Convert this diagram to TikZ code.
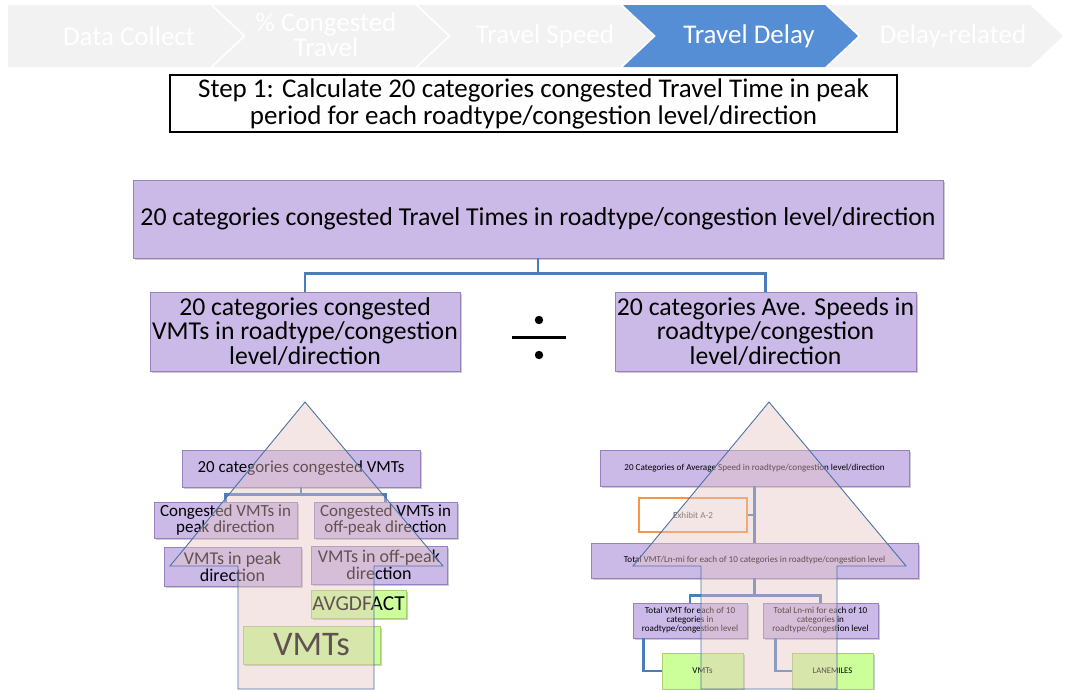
\documentclass[tikz,border=0pt]{standalone}
\usepackage{fontspec}
\setmainfont{Carlito}
\usetikzlibrary{shadows,calc}
\definecolor{chev}{HTML}{F2F2F2}
\definecolor{chevact}{HTML}{558ED5}
\definecolor{lav}{HTML}{CBBAE8}
\definecolor{lavline}{HTML}{9683BD}
\definecolor{conn}{HTML}{4A7EBB}
\definecolor{limef}{HTML}{CCFF99}
\definecolor{limeline}{HTML}{A9CF6E}
\definecolor{pinkf}{HTML}{E8C4C4}
\definecolor{arrline}{HTML}{4A72A8}
\definecolor{orangeb}{HTML}{F79646}
\newcommand{\fs}[2]{\fontsize{#1}{#2}\selectfont}
\begin{document}
\begin{tikzpicture}[x=1pt,y=-1pt,
  box/.style={draw=lavline, fill=lav, line width=0.8pt, inner sep=0pt, align=center,
    drop shadow={shadow xshift=1.5pt,shadow yshift=-1.5pt,fill=black,opacity=0.2}},
  gbox/.style={draw=limeline, fill=limef, line width=1pt, inner sep=0pt, align=center,
    drop shadow={shadow xshift=1.5pt,shadow yshift=-1.5pt,fill=black,opacity=0.2}},
  chevtxt/.style={text=white, align=center, inner sep=0pt, font=\fs{27}{25}},
  conline/.style={draw=conn, line width=2.5pt},
  bigarrow/.style={fill=pinkf, fill opacity=0.42, draw=arrline, line width=0.9pt, line join=miter},
]
\useasboundingbox (0,0) rectangle (1065,689);
\fill[white] (0,0) rectangle (1065,689);

% chevron bar
\fill[chev] (8,5) -- (210,5) -- (243,36) -- (210,67) -- (8,67) -- cycle;
\foreach \i in {1,2,4}{
  \fill[chev] ({8+205*\i},5) -- ({210+205*\i},5) -- ({243+205*\i},36) -- ({210+205*\i},67) -- ({8+205*\i},67) -- ({41+205*\i},36) -- cycle;
}
\fill[chevact] (623,5) -- (825,5) -- (858,36) -- (825,67) -- (623,67) -- (656,36) -- cycle;
\node[chevtxt] (c1) at (129,36) {Data Collect};
\node[chevtxt] (c2) at (326,35) {\% Congested\\Travel};
\node[chevtxt] (c3) at (545,36) {Travel Speed};
\node[chevtxt] (c4) at (749,36) {Travel Delay};
\node[chevtxt] (c5) at (953,36) {Delay-related};

% step box
\node[draw=black, line width=2pt, fill=white, minimum width=727, minimum height=57, inner sep=0pt, align=center, font=\fs{27}{27}] (step) at (533.5,103.5)
  {Step 1: Calculate 20 categories congested Travel Time in peak\\period for each roadtype/congestion level/direction};

% upper tree
\node[box, minimum width=810, minimum height=78, font=\fs{25.8}{26}] (top) at (538,219)
  {20 categories congested Travel Times in roadtype/congestion level/direction};
\node[box, minimum width=310, minimum height=79, font=\fs{25.7}{24.5}] (lft) at (305,331.5)
  {20 categories congested\\VMTs in roadtype/congestion\\level/direction};
\node[box, minimum width=301, minimum height=79, font=\fs{25.7}{24.5}] (rgt) at (765.5,331.5)
  {20 categories Ave. Speeds in\\roadtype/congestion\\level/direction};
\draw[conline, line width=2.2pt] (top.south) -- ++(0,15) -| (lft.north);
\draw[conline, line width=2.2pt] (top.south) -- ++(0,15) -| (rgt.north);

% division sign
\coordinate (dv) at (539,337);
\fill[black] ($(dv)+(0,-17)$) circle (4.2);
\fill[black] ($(dv)+(0,18)$) circle (4.2);
\draw[black, line width=3pt] ($(dv)+(-27,0)$) -- ($(dv)+(27,0)$);

% left lower tree
\node[box, minimum width=238, minimum height=37, font=\fs{16.9}{17}] (l0) at (301,468.5) {20 categories congested VMTs};
\node[box, minimum width=143, minimum height=36, font=\fs{17}{16}] (la) at (225.5,520) {Congested VMTs in\\peak direction};
\node[box, minimum width=143, minimum height=36, font=\fs{17}{16}] (lb) at (385.5,520) {Congested VMTs in\\off-peak direction};
\node[box, minimum width=137, minimum height=39, font=\fs{18}{17}] (lc) at (232.5,566.5) {VMTs in peak\\direction};
\node[box, minimum width=136, minimum height=38, font=\fs{18}{17}] (ld) at (379,565) {VMTs in off-peak\\direction};
\node[gbox, minimum width=95, minimum height=28, font=\fs{21.3}{21}] (avg) at (358.5,604) {AVGDFACT};
\node[gbox, minimum width=137, minimum height=38, font=\fs{34.5}{32}] (lv) at (311.5,645) {VMTs};
\draw[conline] (l0.south) -- ++(0,7) -| (la.north);
\draw[conline] (l0.south) -- ++(0,7) -| (lb.north);

% right lower tree
\node[box, minimum width=309, minimum height=36, font=\fs{9.1}{9.5}] (r0) at (754.5,468)
  {20 Categories of Average Speed in roadtype/congestion level/direction};
\node[draw=orangeb, line width=2.5pt, fill=white, minimum width=108, minimum height=34, inner sep=0pt,
  text=black!70, font=\fs{9.1}{9}] (ex) at (693,515) {Exhibit A-2};
\node[box, minimum width=327, minimum height=35, font=\fs{9.1}{9.5}] (r1) at (754.5,560.5)
  {Total VMT/Ln-mi for each of 10 categories in roadtype/congestion level};
\node[box, minimum width=114, minimum height=35, font=\fs{9.1}{9}] (ra) at (690,620.5)
  {Total VMT for each of 10\\categories in\\roadtype/congestion level};
\node[box, minimum width=115, minimum height=35, font=\fs{9.1}{9}] (rb) at (820.5,620.5)
  {Total Ln-mi for each of 10\\categories in\\roadtype/congestion level};
\node[gbox, minimum width=81, minimum height=36, font=\fs{9}{9}] (rv) at (702.5,671) {VMTs};
\node[gbox, minimum width=81, minimum height=36, font=\fs{8.6}{9}] (rl) at (832.5,671) {LANEMILES};
\draw[conline] (r0.south) -- (r1.north);
\draw[conline] (ex.east) -- (ex.east -| r0.south);
\draw[conline] (r1.south) -- ++(0,17) -| (ra.north);
\draw[conline] (r1.south) -- ++(0,17) -| (rb.north);
\draw[conline] ($(ra.south west)+(11,0)$) |- (rv.west);
\draw[conline] ($(rb.south west)+(13,0)$) |- (rl.west);

% translucent arrows
\path[bigarrow] (305,402) -- (443,566) -- (374,566) -- (374,689) -- (238,689) -- (238,566) -- (170,566) -- cycle;
\path[bigarrow] (769,402) -- (906,566) -- (837,566) -- (837,689) -- (701,689) -- (701,566) -- (633,566) -- cycle;
\end{tikzpicture}
\end{document}
